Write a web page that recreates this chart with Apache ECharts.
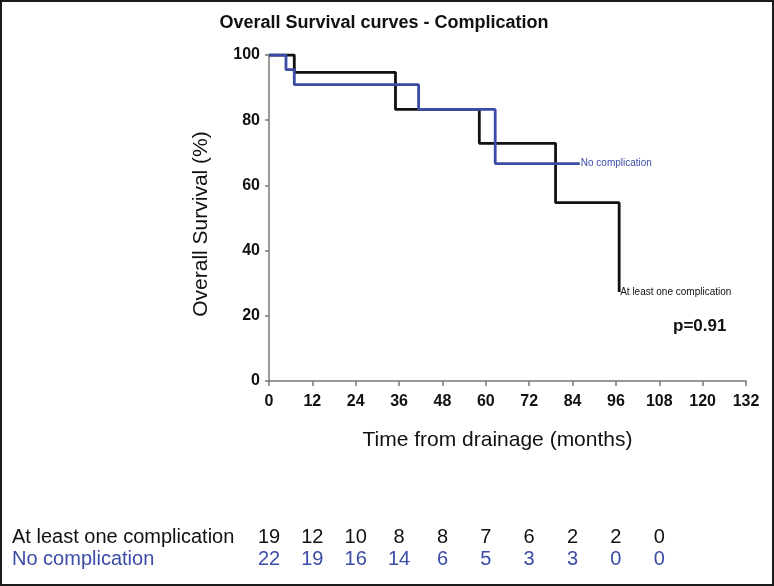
<!DOCTYPE html>
<html>
<head>
<meta charset="utf-8">
<script src="https://cdn.jsdelivr.net/npm/echarts@6/dist/echarts.min.js"></script>
<style>html,body{margin:0;padding:0;background:#fff}#c{width:774px;height:586px}</style>
</head>
<body>
<div id="c"></div>
<script>
// Kaplan-Meier step points [time (months), survival %]
var atLeastOne = [[0,100],[7,94.7],[35,83.3],[58.2,72.9],[79.3,54.7],[96.9,27.3]];
var noComplication = [[0,100],[4.7,95.5],[7,90.9],[41.4,83.3],[62.6,66.7],[86,66.7]];
var xTicks = {min:0, max:132, interval:12};
var yTicks = {min:0, max:100, interval:20};
// numbers at risk at 0,12,...,108
var riskTimes = [0,12,24,36,48,60,72,84,96,108];
var riskAtLeastOne = [19,12,10,8,8,7,6,2,2,0];
var riskNoComp = [22,19,16,14,6,5,3,3,0,0];
var rowNames = ['At least one complication','No complication'];

var BLUE = '#3b4ba6';
var FONT = 'Liberation Sans, Arial, sans-serif';

var chart = echarts.init(document.getElementById('c'));
var riskA = riskTimes.map(function(t,i){return [t, rowNames[0], riskAtLeastOne[i]];});
var riskB = riskTimes.map(function(t,i){return [t, rowNames[1], riskNoComp[i]];});

chart.setOption({
  animation:false,
  backgroundColor:'#fff',
  title:{text:'Overall Survival curves - Complication', left:379, top:9, textAlign:'center',
    textStyle:{fontFamily:FONT, fontSize:18, fontWeight:'bold', color:'#111'}},
  grid:[
    {left:269, right:28, top:55, bottom:205},
    {left:269, right:28, top:526, height:44}
  ],
  xAxis:[
    {gridIndex:0, type:'value', min:xTicks.min, max:xTicks.max, interval:xTicks.interval, offset:4,
     name:'Time from drainage (months)', nameLocation:'middle', nameGap:45,
     nameTextStyle:{fontFamily:FONT, fontSize:21, color:'#111', padding:[0,20,0,0]},
     axisLine:{show:true, lineStyle:{color:'#777', width:1.5}},
     axisTick:{show:true, length:5, lineStyle:{color:'#777', width:1.5}},
     axisLabel:{margin:9, fontFamily:FONT, fontSize:16, fontWeight:'bold', color:'#111'},
     splitLine:{show:false}},
    {gridIndex:1, type:'value', min:xTicks.min, max:xTicks.max, show:false}
  ],
  yAxis:[
    {gridIndex:0, type:'value', min:yTicks.min, max:yTicks.max, interval:yTicks.interval, offset:3,
     name:'Overall Survival (%)', nameLocation:'middle', nameGap:54, nameRotate:90,
     nameTextStyle:{fontFamily:FONT, fontSize:21, color:'#111', padding:[0,12,0,0]},
     axisLine:{show:true, lineStyle:{color:'#777', width:1.5}},
     axisTick:{show:true, length:4, lineStyle:{color:'#777', width:1.5}},
     axisLabel:{margin:6, fontFamily:FONT, fontSize:16, fontWeight:'bold', color:'#111'},
     splitLine:{show:false}},
    {gridIndex:1, type:'category', data:rowNames, inverse:true,
     axisLine:{show:false}, axisTick:{show:false}, splitLine:{show:false},
     axisLabel:{interval:0, margin:257, align:'left', fontFamily:FONT, fontSize:20,
       color:function(v){return v===rowNames[1]?BLUE:'#111';}}}
  ],
  series:[
    {type:'line', xAxisIndex:0, yAxisIndex:0, step:'end', data:atLeastOne, showSymbol:false, symbol:'none',
     lineStyle:{color:'#111', width:2.8}, z:2,
     endLabel:{show:true, formatter:rowNames[0], distance:1, fontFamily:FONT, fontSize:10, color:'#111'}},
    {type:'line', xAxisIndex:0, yAxisIndex:0, step:'end', data:noComplication, showSymbol:false, symbol:'none',
     lineStyle:{color:BLUE, width:2.8}, z:3,
     endLabel:{show:true, formatter:rowNames[1], distance:1, fontFamily:FONT, fontSize:10, color:BLUE}},
    {type:'scatter', xAxisIndex:1, yAxisIndex:1, data:riskA, symbolSize:0, silent:true, itemStyle:{opacity:1},
     label:{show:true, position:'inside', formatter:function(p){return p.value[2];}, fontFamily:FONT, fontSize:20, color:'#111', opacity:1}},
    {type:'scatter', xAxisIndex:1, yAxisIndex:1, data:riskB, symbolSize:0, silent:true, itemStyle:{opacity:1},
     label:{show:true, position:'inside', formatter:function(p){return p.value[2];}, fontFamily:FONT, fontSize:20, color:BLUE, opacity:1}}
  ],
  graphic:[
    {type:'rect', shape:{x:1, y:1, width:772, height:584}, style:{fill:'none', stroke:'#1a1a1a', lineWidth:2}, silent:true},
    {type:'text', left:673, top:318, style:{text:'p=0.91', font:'bold 17px '+FONT, fill:'#111'}}
  ]
});
</script>
</body>
</html>
